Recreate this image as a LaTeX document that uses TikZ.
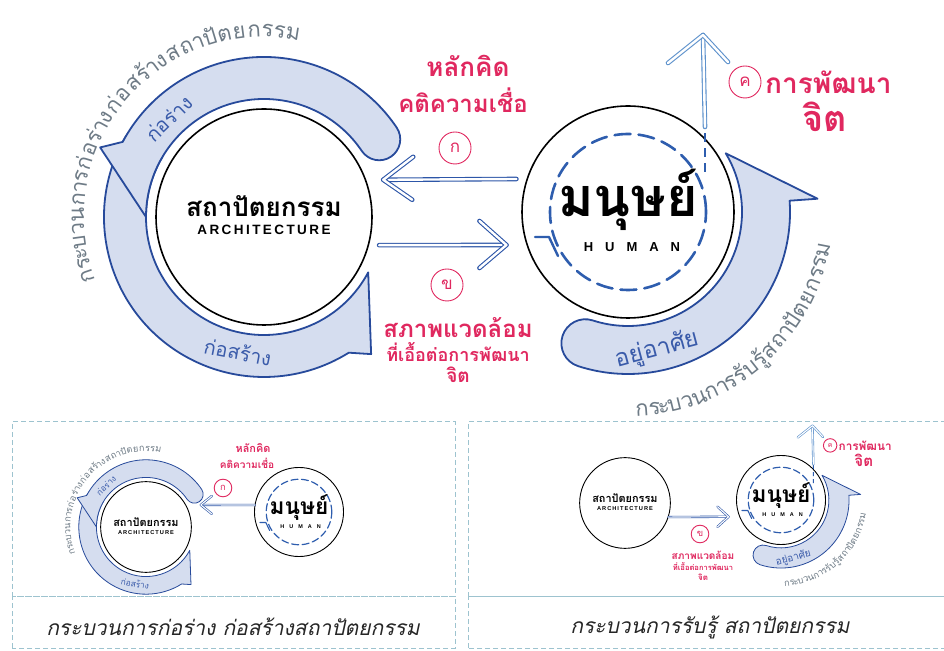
\documentclass[tikz,border=0pt]{standalone}
\usepackage{fontspec}
\usetikzlibrary{calc}
\newfontfamily\thai[Script=Thai]{Loma}
\newfontfamily\latinwide[LetterSpace=18]{Liberation Sans}
\newfontfamily\latinwider[LetterSpace=92]{Liberation Sans}
\definecolor{bandfill}{HTML}{D5DDEF}
\definecolor{bandedge}{HTML}{274A9B}
\definecolor{bandtext}{HTML}{3A5BAA}
\definecolor{crimson}{HTML}{E0285F}
\definecolor{arcgrey}{HTML}{6E7B86}
\definecolor{flowblue}{HTML}{2D56A8}
\definecolor{upblue}{HTML}{5E92CC}
\definecolor{dashblue}{HTML}{2E5DAE}
\definecolor{framegrey}{HTML}{9DC3CF}
\tikzset{
  band/.style={draw=bandedge, fill=bandfill, line width=1.8pt, line join=round},
  archcirc/.style={circle, draw=black, line width=1.6pt, fill=white, minimum size=216pt, inner sep=0pt},
  humancirc/.style={circle, draw=black, line width=1.6pt, fill=white, minimum size=212pt, inner sep=0pt},
  ringdash/.style={draw=dashblue, line width=2.6pt, dash pattern=on 16pt off 8pt, line cap=round},
  ringhook/.style={draw=dashblue, line width=2.4pt, line cap=round, line join=round},
  stubdash/.style={draw=dashblue, line width=2pt, dash pattern=on 9pt off 6pt},
  flowline/.style={draw=flowblue, double=white, double distance=2.4pt, line width=1.1pt, line cap=round, line join=round},
  flowthin/.style={flowline, line width=0.6pt, double distance=1.1pt},
  upline/.style={draw=upblue, double=white, double distance=2.4pt, line width=1.1pt, line cap=round, line join=round},
  tagcirc/.style={circle, draw=crimson, line width=0.9pt, minimum size=32pt, inner sep=0pt, text=crimson, font=\thai\fontsize{17}{17}\selectfont},
  redtext/.style={text=crimson, inner sep=0pt, align=center},
  bandlabel/.style={text=bandtext, inner sep=0pt, font=\thai\fontsize{20}{20}\selectfont},
  framebox/.style={draw=framegrey, dash pattern=on 5pt off 3pt, line width=1pt, fill=white},
  caption/.style={font=\thai\itshape\fontsize{21}{21}\selectfont, text=black!85, inner sep=0pt},
  mini/.style={band/.append style={line width=0.8pt}, archcirc/.append style={line width=0.9pt},
    humancirc/.append style={line width=0.9pt}, ringdash/.append style={line width=1.2pt, dash pattern=on 7pt off 3.5pt},
    ringhook/.append style={line width=1.1pt}, stubdash/.append style={line width=1pt, dash pattern=on 4pt off 3pt},
    upline/.append style={line width=0.6pt, double distance=1.1pt}},
}

% band arrow round the origin: cap angle, outer end, barb, tip angle, inner r, outer r
\newcommand\bandarrow[6]{%
  \pgfmathsetmacro\bandhalf{(#6-#5)/2}%
  \pgfmathsetmacro\capA{#1+180}%
  \pgfmathsetmacro\capB{#1+360}%
  \draw[band] (#1:#6) arc[start angle=#1, end angle=#2, radius=#6] -- (#3) -- (#4:#5)
    arc[start angle=#4, end angle=#1, radius=#5]
    arc[start angle=\capA, end angle=\capB, radius=\bandhalf] -- cycle;
}
% letters set one by one round the origin: name, radius, start angle, direction, font, letter/width list
\newcommand\arctext[6]{%
  \gdef\arcang{#3}%
  \foreach \c/\wt [count=\i] in {#6}{%
    \pgfmathsetmacro\arcmid{\arcang+(#4)*0.5*\wt*14.5/#2*57.2958}%
    \pgfmathsetmacro\arcnext{\arcang+(#4)*\wt*14.5/#2*57.2958}%
    \node[font=#5, text=arcgrey, inner sep=0pt, anchor=base, rotate=\arcmid+(#4)*90] (#1\i) at (\arcmid:#2) {\c};
    \global\let\arcang\arcnext
  }%
}
\newcommand\archcore{%
  \node[archcirc] (arch) at (0,0) {};
  \node[font=\thai\bfseries\fontsize{26}{26}\selectfont, anchor=base, inner sep=0pt] (archth) at (0,0) {สถาปัตยกรรม};
  \node[font=\latinwide\bfseries\fontsize{13.5}{13.5}\selectfont, anchor=base, inner sep=0pt] (archen) at (0,-18) {ARCHITECTURE};
}
\newcommand\archbands{%
  \bandarrow{150}{302}{308:174}{332}{118}{160}
  \bandarrow{34}{152}{157:178}{180}{118}{160}
  \node[bandlabel, rotate=44] (shapeA) at (134:137) {ก่อร่าง};
  \node[bandlabel, rotate=-11] (shapeB) at (259:137) {ก่อสร้าง};
  \arctext{arcL}{180}{201}{-1}{\thai\fontsize{22}{22}\selectfont}{ก/1,ร/.8,ะ/.55,บ/1,ว/.85,น/1,ก/1,า/.65,ร/.8,ก่/1,อ/1,ร่/.8,า/.65,ง/.85,ก่/1,อ/1,ส/1,ร้/.8,า/.65,ง/.85,ส/1,ถ/1,า/.65,ปั/1,ต/1,ย/1,ก/1,ร/.8,ร/.8,ม/1}
}
\newcommand\humancore{%
  \node[humancirc] (human) at (0,0) {};
  \draw[ringdash] (0,0) circle[radius=78];
  \draw[ringhook] (-93,-25) -- (-79,-25) -- (-70,-44);
  \node[font=\thai\bfseries\fontsize{54}{54}\selectfont, anchor=base, inner sep=0pt] (humanth) at (0,-5) {มนุษย์};
  \node[font=\latinwider\bfseries\fontsize{13}{13}\selectfont, anchor=base, inner sep=0pt] (humanen) at (4,-40) {HUMAN};
}
\newcommand\humanbands{%
  \bandarrow{-108}{4}{4:190}{31}{114}{162}
  \node[bandlabel, font=\thai\fontsize{24}{24}\selectfont, rotate=15] (dwell) at (-78:141) {อยู่อาศัย};
  \arctext{arcR}{205}{272}{1}{\thai\fontsize{22}{22}\selectfont}{ก/1,ร/.8,ะ/.55,บ/1,ว/.85,น/1,ก/1,า/.65,ร/.8,รั/.8,บ/1,รู้/.8,ส/1,ถ/1,า/.65,ปั/1,ต/1,ย/1,ก/1,ร/.8,ร/.8,ม/1}
}
\newcommand\humangrowth{%
  \coordinate (uptail) at (77,85);
  \coordinate (uptip) at (75,177);
  \draw[stubdash] (77,40) -- (uptail);
  \draw[upline] (uptail) -- (uptip);
  \draw[upline] (40,149) -- (uptip) -- (100,150);
  \node[tagcirc] (tagC) at (117,130) {ค};
  \node[redtext, font=\thai\bfseries\fontsize{28}{28}\selectfont, anchor=west] (growA) at (137,130) {การพัฒนา};
  \node[redtext, font=\thai\bfseries\fontsize{36}{36}\selectfont] (growB) at (197,95) {จิต};
}

\begin{document}
\begin{tikzpicture}[x=1pt, y=1pt]
  \useasboundingbox (0,0) rectangle (944,650);
  % top: the two loops
  \begin{scope}[shift={(264,433)}]
    \archbands
    \archcore
  \end{scope}
  \begin{scope}[shift={(628,438)}]
    \humanbands
    \humancore
    \humangrowth
  \end{scope}
  % belief into architecture
  \coordinate (ktail) at ($(human.162)+(-10,0)$);
  \coordinate (ktip) at ($(arch.20)+(17,0)$);
  \draw[flowline] (ktail) -- (ktip);
  \draw[flowline] ($(ktip)+(30,23)$) -- (ktip) -- ($(ktip)+(29,-20)$);
  \node[tagcirc] (tagA) at (455,502) {ก};
  \node[redtext, font=\thai\bfseries\fontsize{26}{26}\selectfont] (beliefA) at (468,584) {หลักคิด};
  \node[redtext, font=\thai\bfseries\fontsize{24}{24}\selectfont] (beliefB) at (463,550) {คติความเชื่อ};
  % surroundings into the human
  \coordinate (etail) at ($(arch.345)+(10,0)$);
  \coordinate (etip) at ($(human.198)+(-20,0)$);
  \draw[flowline] (etail) -- (etip);
  \draw[flowline] ($(etip)+(-27,24)$) -- (etip) -- ($(etip)+(-27,-23)$);
  \node[tagcirc] (tagB) at (447,365) {ข};
  \node[redtext, font=\thai\bfseries\fontsize{24}{24}\selectfont] (envA) at (458,322) {สภาพแวดล้อม};
  \node[redtext, font=\thai\bfseries\fontsize{18}{18}\selectfont] (envB) at (458,298) {ที่เอื้อต่อการพัฒนา};
  \node[redtext, font=\thai\bfseries\fontsize{19}{19}\selectfont] (envC) at (458,275) {จิต};

  % lower left panel
  \draw[framebox] (12,53) rectangle (455,228);
  \draw[framebox] (12,2) rectangle (455,53);
  \begin{scope}[shift={(146,123)}, scale=0.42, transform shape, name prefix=l-, mini]
    \archbands
    \archcore
  \end{scope}
  \begin{scope}[shift={(299,138)}, scale=0.42, transform shape, name prefix=l-, mini]
    \humancore
  \end{scope}
  \coordinate (l-ktail) at (l-human.171);
  \coordinate (l-ktip) at ($(l-arch.29)+(15,0)$);
  \draw[flowthin] (l-ktail) -- (l-ktip);
  \draw[flowthin] ($(l-ktip)+(11,9)$) -- (l-ktip) -- ($(l-ktip)+(11,-9)$);
  \node[tagcirc, scale=0.55] (l-tagA) at (223,162) {ก};
  \node[redtext, font=\thai\bfseries\fontsize{26}{26}\selectfont, scale=0.42] (l-beliefA) at (253,202) {หลักคิด};
  \node[redtext, font=\thai\bfseries\fontsize{24}{24}\selectfont, scale=0.42] (l-beliefB) at (247,187) {คติความเชื่อ};
  \node[caption] (capL) at (233,23) {กระบวนการก่อร่าง ก่อสร้างสถาปัตยกรรม};

  % lower right panel
  \draw[framebox] (468,53) rectangle (960,228);
  \draw[framebox] (468,2) rectangle (960,53);
  \begin{scope}[shift={(625,147)}, scale=0.42, transform shape, name prefix=r-, mini]
    \archcore
  \end{scope}
  \begin{scope}[shift={(781,150)}, scale=0.42, transform shape, name prefix=r-, mini]
    \humanbands
    \humancore
    \humangrowth
  \end{scope}
  \coordinate (r-etail) at (r-arch.342);
  \coordinate (r-etip) at ($(r-human.202)+(-11,0)$);
  \draw[flowthin] (r-etail) -- (r-etip);
  \draw[flowthin] ($(r-etip)+(-11,10)$) -- (r-etip) -- ($(r-etip)+(-11,-10)$);
  \node[tagcirc, scale=0.55] (r-tagB) at (700,116) {ข};
  \node[redtext, font=\thai\bfseries\fontsize{24}{24}\selectfont, scale=0.42] (r-envA) at (703,95) {สภาพแวดล้อม};
  \node[redtext, font=\thai\bfseries\fontsize{18}{18}\selectfont, scale=0.42] (r-envB) at (703,83) {ที่เอื้อต่อการพัฒนา};
  \node[redtext, font=\thai\bfseries\fontsize{19}{19}\selectfont, scale=0.42] (r-envC) at (703,73) {จิต};
  \node[caption] (capR) at (710,23) {กระบวนการรับรู้ สถาปัตยกรรม};
\end{tikzpicture}
\end{document}
